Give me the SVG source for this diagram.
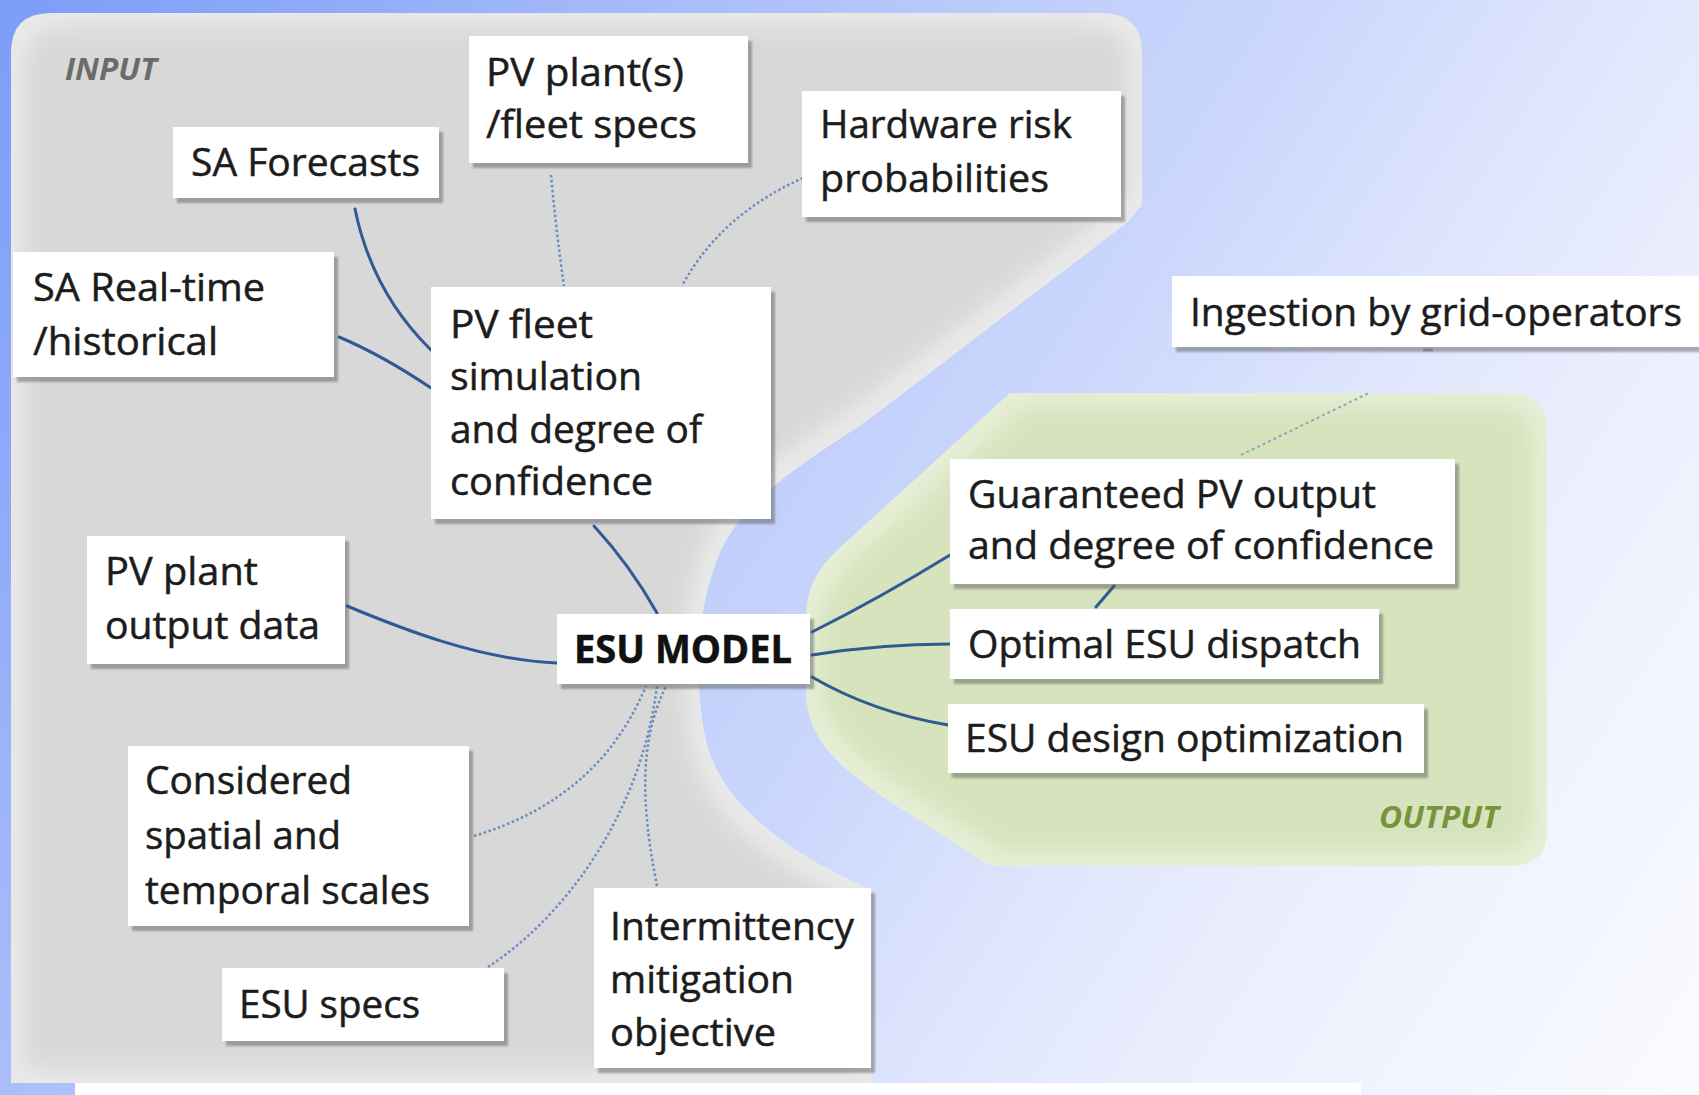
<svg xmlns="http://www.w3.org/2000/svg" width="1699" height="1095" viewBox="0 0 1699 1095">
  <defs>
    <linearGradient id="bg" gradientUnits="userSpaceOnUse" x1="0" y1="0" x2="1699" y2="1095">
      <stop offset="0" stop-color="#7c9cf8"/>
      <stop offset="0.13" stop-color="#8eaaf8"/>
      <stop offset="0.27" stop-color="#a6bbf9"/>
      <stop offset="0.47" stop-color="#c3d1fb"/>
      <stop offset="0.55" stop-color="#cbd7fc"/>
      <stop offset="0.68" stop-color="#e0e6fd"/>
      <stop offset="0.8" stop-color="#edf0fd"/>
      <stop offset="1" stop-color="#fafbff"/>
    </linearGradient>
    <!-- soft-edged panels: light rim, darker core faded inwards -->
    <filter id="softGray" x="-5%" y="-5%" width="110%" height="110%">
      <feMorphology in="SourceAlpha" operator="erode" radius="14" result="e"/>
      <feGaussianBlur in="e" stdDeviation="10" result="b"/>
      <feFlood flood-color="#d8d8d8" result="c"/>
      <feComposite in="c" in2="b" operator="in" result="core"/>
      <feComposite in="core" in2="SourceAlpha" operator="in" result="core2"/>
      <feMerge><feMergeNode in="SourceGraphic"/><feMergeNode in="core2"/></feMerge>
    </filter>
    <filter id="softGreen" x="-5%" y="-5%" width="110%" height="110%">
      <feMorphology in="SourceAlpha" operator="erode" radius="14" result="e"/>
      <feGaussianBlur in="e" stdDeviation="10" result="b"/>
      <feFlood flood-color="#d6e3bc" result="c"/>
      <feComposite in="c" in2="b" operator="in" result="core"/>
      <feComposite in="core" in2="SourceAlpha" operator="in" result="core2"/>
      <feMerge><feMergeNode in="SourceGraphic"/><feMergeNode in="core2"/></feMerge>
    </filter>
    <filter id="shadow" x="-10%" y="-10%" width="125%" height="130%">
      <feDropShadow dx="4" dy="5" stdDeviation="1.2" flood-color="#555" flood-opacity="0.45"/>
    </filter>
    <style>
      .box { fill:#ffffff; filter:url(#shadow); }
      .t { font-family:"Open Sans","Liberation Sans",sans-serif; font-size:39px; fill:#1c1c1c; stroke:#1c1c1c; stroke-width:0.5; }
      .b { font-weight:bold; fill:#111111; stroke:#111111; }
      .lbl { font-family:"Open Sans","Liberation Sans",sans-serif; font-size:30px; font-style:italic; font-weight:bold; }
      .solid { fill:none; stroke:#2f5a93; stroke-width:3; stroke-linecap:round; }
      .dot { fill:none; stroke:#6a8cc0; stroke-width:2.5; stroke-dasharray:2.5 2.5; }
      .faint { fill:none; stroke:#8ea6c4; stroke-width:2; stroke-dasharray:3 3; }
    </style>
  </defs>

  <!-- background -->
  <rect x="0" y="0" width="1699" height="1095" fill="url(#bg)"/>

  <!-- input area -->
  <path d="M 11,53 Q 11,13 51,13 L 1102,13 Q 1142,13 1142,53 L 1142,205 L 1128,222 L 868,420 C 800,466 740,500 717,560 C 697,612 693,680 706,740 C 720,800 780,850 872,890 L 872,1083 L 11,1083 Z" fill="#e9e9e9" filter="url(#softGray)"/>

  <!-- output area -->
  <path d="M 1010,393 L 1510,393 Q 1547,393 1547,430 L 1547,830 Q 1547,866 1510,866 L 990,866 L 900,808 C 840,770 806,740 806,690 L 806,620 C 806,585 820,565 845,543 Z" fill="#e6eed6" filter="url(#softGreen)"/>

  <!-- partly visible box at the bottom edge -->
  <rect x="75" y="1083" width="1286" height="20" fill="#ffffff"/>

  <text class="lbl" x="65" y="80" fill="#6b6b6b" textLength="92" lengthAdjust="spacingAndGlyphs">INPUT</text>
  <text class="lbl" x="1379" y="828" fill="#77933c" textLength="120" lengthAdjust="spacingAndGlyphs">OUTPUT</text>

  <!-- connectors -->
  <g id="connectors">
    <path class="solid" d="M355,209 Q372,292 431,350"/>
    <path class="solid" d="M339,337 Q382,355 431,388"/>
    <path class="dot" d="M551,175 Q556,230 564,286"/>
    <path class="dot" d="M803,178 Q720,215 682,286"/>
    <path class="solid" d="M594,526 Q630,565 657,613"/>
    <path class="solid" d="M347,606 C400,628 480,660 557,663"/>
    <path class="dot" d="M474,836 C560,810 615,760 646,686"/>
    <path class="dot" d="M488,967 C560,920 640,820 657,686"/>
    <path class="dot" d="M657,886 C640,800 640,740 666,686"/>
    <path class="solid" d="M812,632 Q880,598 950,555"/>
    <path class="solid" d="M812,655 Q880,644 950,644"/>
    <path class="solid" d="M812,677 Q872,712 948,725"/>
    <path class="solid" d="M1114,586 L1096,607"/>
    <path class="faint" d="M1241,455 L1371,392"/>
    <path d="M1423,350 L1433,350" stroke="#9aa6b8" stroke-width="3"/>
  </g>

  <!-- inputs -->
  <g id="n-pv-specs">
    <rect class="box" x="469" y="36" width="279" height="127"/>
    <text class="t" x="486" y="86" textLength="198" lengthAdjust="spacingAndGlyphs">PV plant(s)</text>
    <text class="t" x="486" y="138" textLength="211" lengthAdjust="spacingAndGlyphs">/fleet specs</text>
  </g>
  <g id="n-sa-forecasts">
    <rect class="box" x="173" y="127" width="266" height="71"/>
    <text class="t" x="191" y="176" textLength="229" lengthAdjust="spacingAndGlyphs">SA Forecasts</text>
  </g>
  <g id="n-hardware">
    <rect class="box" x="802" y="91" width="319" height="126"/>
    <text class="t" x="820" y="138" textLength="252" lengthAdjust="spacingAndGlyphs">Hardware risk</text>
    <text class="t" x="820" y="192" textLength="229" lengthAdjust="spacingAndGlyphs">probabilities</text>
  </g>
  <g id="n-sa-realtime">
    <rect class="box" x="13" y="252" width="321" height="125"/>
    <text class="t" x="33" y="301" textLength="232" lengthAdjust="spacingAndGlyphs">SA Real-time</text>
    <text class="t" x="33" y="355" textLength="185" lengthAdjust="spacingAndGlyphs">/historical</text>
  </g>
  <g id="n-pv-fleet">
    <rect class="box" x="431" y="287" width="340" height="232"/>
    <text class="t" x="450" y="338" textLength="143" lengthAdjust="spacingAndGlyphs">PV fleet</text>
    <text class="t" x="450" y="390" textLength="192" lengthAdjust="spacingAndGlyphs">simulation</text>
    <text class="t" x="450" y="443" textLength="252" lengthAdjust="spacingAndGlyphs">and degree of</text>
    <text class="t" x="450" y="495" textLength="203" lengthAdjust="spacingAndGlyphs">confidence</text>
  </g>
  <g id="n-pv-output">
    <rect class="box" x="87" y="536" width="258" height="128"/>
    <text class="t" x="105" y="585" textLength="153" lengthAdjust="spacingAndGlyphs">PV plant</text>
    <text class="t" x="105" y="639" textLength="215" lengthAdjust="spacingAndGlyphs">output data</text>
  </g>
  <g id="n-scales">
    <rect class="box" x="128" y="746" width="341" height="180"/>
    <text class="t" x="145" y="794" textLength="207" lengthAdjust="spacingAndGlyphs">Considered</text>
    <text class="t" x="145" y="849" textLength="196" lengthAdjust="spacingAndGlyphs">spatial and</text>
    <text class="t" x="145" y="904" textLength="285" lengthAdjust="spacingAndGlyphs">temporal scales</text>
  </g>
  <g id="n-esu-specs">
    <rect class="box" x="222" y="968" width="282" height="73"/>
    <text class="t" x="239" y="1018" textLength="181" lengthAdjust="spacingAndGlyphs">ESU specs</text>
  </g>
  <g id="n-intermittency">
    <rect class="box" x="594" y="888" width="277" height="180"/>
    <text class="t" x="610" y="940" textLength="244" lengthAdjust="spacingAndGlyphs">Intermittency</text>
    <text class="t" x="610" y="993" textLength="184" lengthAdjust="spacingAndGlyphs">mitigation</text>
    <text class="t" x="610" y="1046" textLength="166" lengthAdjust="spacingAndGlyphs">objective</text>
  </g>

  <!-- model -->
  <g id="n-esu-model">
    <rect class="box" x="557" y="614" width="253" height="70"/>
    <text class="t b" x="574" y="663" textLength="218" lengthAdjust="spacingAndGlyphs">ESU MODEL</text>
  </g>

  <!-- outputs -->
  <g id="n-ingestion">
    <rect class="box" x="1172" y="276" width="540" height="71"/>
    <text class="t" x="1190" y="326" textLength="492" lengthAdjust="spacingAndGlyphs">Ingestion by grid-operators</text>
  </g>
  <g id="n-guaranteed">
    <rect class="box" x="950" y="459" width="505" height="125"/>
    <text class="t" x="968" y="508" textLength="408" lengthAdjust="spacingAndGlyphs">Guaranteed PV output</text>
    <text class="t" x="968" y="559" textLength="466" lengthAdjust="spacingAndGlyphs">and degree of confidence</text>
  </g>
  <g id="n-optimal">
    <rect class="box" x="950" y="609" width="429" height="70"/>
    <text class="t" x="968" y="658" textLength="393" lengthAdjust="spacingAndGlyphs">Optimal ESU dispatch</text>
  </g>
  <g id="n-design">
    <rect class="box" x="948" y="704" width="476" height="69"/>
    <text class="t" x="965" y="752" textLength="439" lengthAdjust="spacingAndGlyphs">ESU design optimization</text>
  </g>
</svg>
